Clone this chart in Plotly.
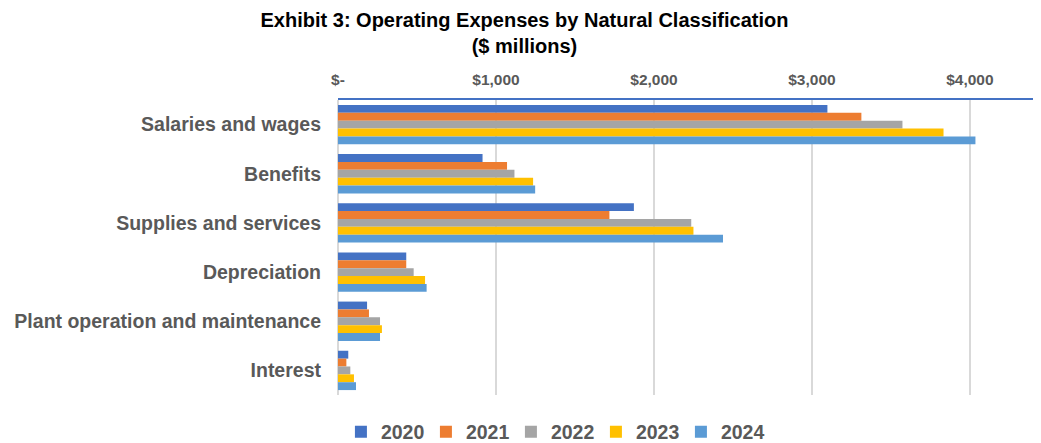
import plotly.graph_objects as go

categories = [
    "Salaries and wages",
    "Benefits",
    "Supplies and services",
    "Depreciation",
    "Plant operation and maintenance",
    "Interest",
]
years = ["2020", "2021", "2022", "2023", "2024"]

y2020 = [3098, 915, 1873, 432, 184, 65]
y2021 = [3313, 1070, 1718, 432, 196, 53]
y2022 = [3573, 1117, 2236, 479, 266, 78]
y2023 = [3833, 1235, 2250, 551, 278, 101]
y2024 = [4035, 1248, 2437, 561, 266, 114]

tick_vals = [0, 1000, 2000, 3000, 4000]
tick_text = ["$-", "$1,000", "$2,000", "$3,000", "$4,000"]

colors = ["#4472C4", "#ED7D31", "#A5A5A5", "#FFC000", "#5B9BD5"]
series = [y2020, y2021, y2022, y2023, y2024]

FONT = "Liberation Sans, Arial, sans-serif"
GREY = "#595959"

fig = go.Figure()
for yr, vals, col in zip(years, series, colors):
    fig.add_trace(go.Bar(
        y=categories, x=vals, name=yr, orientation="h",
        marker=dict(color=col, line=dict(width=0)),
    ))

# the page body adds an 8px margin, so the figure is shrunk by that much
fig.update_layout(
    width=1033, height=435,
    margin=dict(l=330, r=0, t=92, b=48),
    plot_bgcolor="white", paper_bgcolor="white",
    barmode="group", bargap=0.2, bargroupgap=0,
    title=dict(
        text="<b>Exhibit 3: Operating Expenses by Natural Classification</b><br><b>($ millions)</b>",
        x=0.5, xanchor="center", xref="container",
        y=0.956, yanchor="top", yref="container",
        font=dict(family=FONT, size=20, color="black"),
    ),
    legend=dict(
        orientation="h", xref="container", yref="container",
        x=0.528, xanchor="center", y=0.025, yanchor="middle",
        font=dict(family=FONT, size=19.5, color=GREY, weight="bold"),
        itemwidth=30, entrywidth=40, entrywidthmode="pixels",
    ),
)
fig.update_xaxes(
    side="top", range=[0, 4450], automargin=False,
    tickvals=tick_vals, ticktext=tick_text,
    tickfont=dict(family=FONT, size=15.5, color=GREY, weight="bold"),
    showgrid=True, gridcolor="#D9D9D9", gridwidth=2,
    zeroline=True, zerolinecolor="#D9D9D9", zerolinewidth=2,
    showline=True, linecolor="#4472C4", linewidth=1.5,
    ticks="", ticklabelstandoff=7,
)
fig.update_yaxes(
    autorange="reversed", automargin=False,
    tickfont=dict(family=FONT, size=19.5, color=GREY, weight="bold"),
    showgrid=False, ticks="", ticklabelstandoff=16,
)

fig.write_html("out.html")
